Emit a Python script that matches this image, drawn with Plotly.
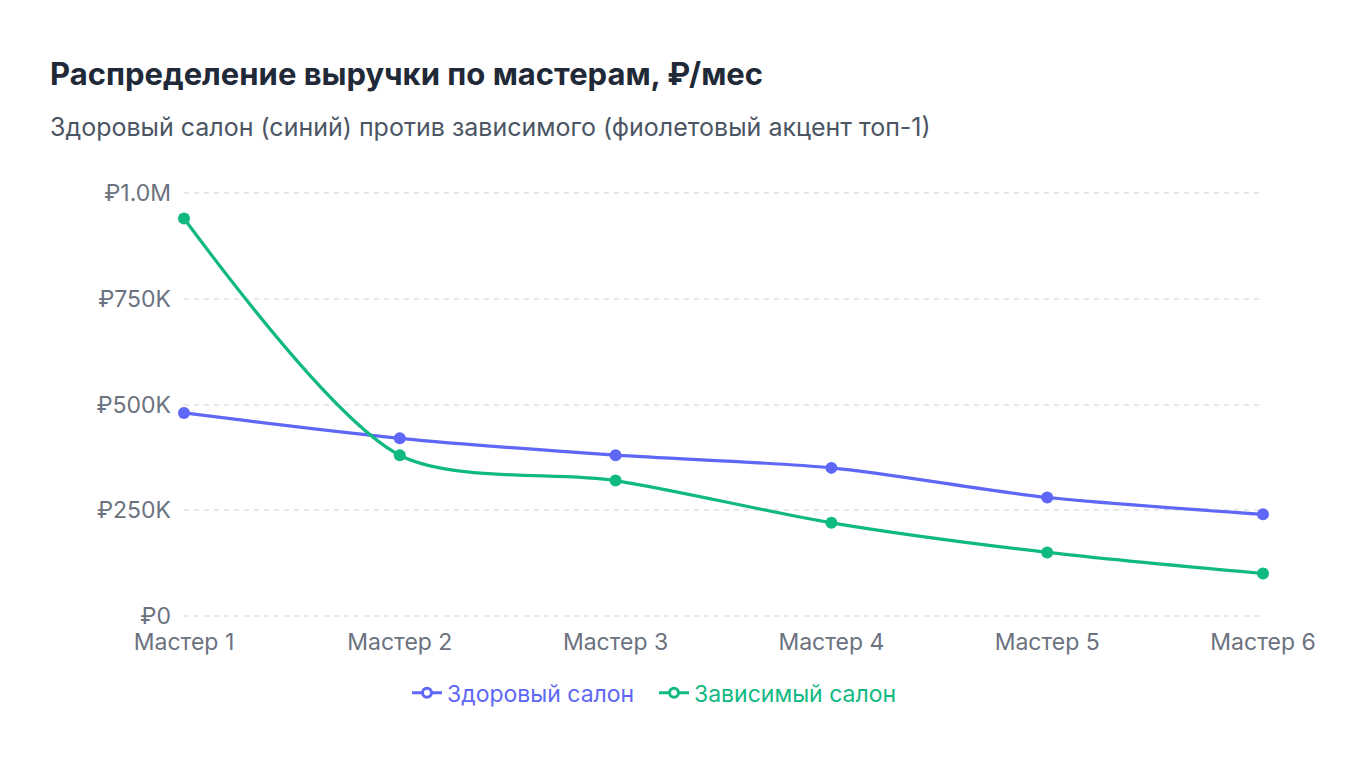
import plotly.graph_objects as go

categories = ["Мастер 1", "Мастер 2", "Мастер 3", "Мастер 4", "Мастер 5", "Мастер 6"]
healthy = [480000, 420000, 380000, 350000, 280000, 240000]
dependent = [940000, 380000, 320000, 220000, 150000, 100000]
tick_vals = [0, 250000, 500000, 750000, 1000000]
tick_text = ["₽0", "₽250K", "₽500K", "₽750K", "₽1.0M"]
series_names = ["Здоровый салон", "Зависимый салон"]

BLUE = "#5e67f6"
GREEN = "#10b981"
FONT = "Inter"

W, H = 1360, 760
L, R = 184, 1263
Y0, Y1 = 616, 193          # pixel rows of 0 and 1.0M
PAD = 0.01                 # fractional range padding so edge gridlines draw
span = Y0 - Y1
T = Y1 - span * PAD
B = Y0 + span * PAD

def px_x(x):
    return (x - L) / (R - L)

def px_y(y):
    return (B - y) / (B - T)

fig = go.Figure()
for name, vals, col in [(series_names[0], healthy, BLUE), (series_names[1], dependent, GREEN)]:
    fig.add_trace(go.Scatter(
        x=categories, y=vals, mode="lines+markers", name=name,
        line=dict(color=col, width=3.2, shape="spline", smoothing=0.8),
        marker=dict(color=col, size=12),
        showlegend=False, cliponaxis=False,
    ))
    fig.add_trace(go.Scatter(
        x=[None], y=[None], mode="lines+markers",
        name=f"<span style='color:{col}'>{name}</span>",
        line=dict(color=col, width=3),
        marker=dict(color="white", size=9, line=dict(color=col, width=3)),
        showlegend=True,
    ))

fig.update_layout(
    width=W, height=H,
    margin=dict(l=L, r=W - R, t=T, b=H - B, pad=0),
    paper_bgcolor="white", plot_bgcolor="white",
    font=dict(family=FONT, size=23, color="#6b7280"),
    xaxis=dict(
        type="category", range=[0, 5], showgrid=False, zeroline=False,
        showline=False, ticks="", tickfont=dict(size=23, color="#6b7280"),
        ticklabelstandoff=6,
    ),
    yaxis=dict(
        range=[-1000000 * PAD, 1000000 * (1 + PAD)], tickvals=tick_vals, ticktext=tick_text,
        showgrid=True, gridcolor="#e5e7eb", griddash="5px,5px", gridwidth=2,
        zeroline=False, showline=False, ticks="",
        tickfont=dict(size=23, color="#6b7280"), ticklabelstandoff=12,
    ),
    showlegend=True,
    legend=dict(
        orientation="h", x=px_x(407), y=px_y(693), xanchor="left", yanchor="middle",
        font=dict(size=23), bgcolor="rgba(0,0,0,0)", itemwidth=30, entrywidth=202,
    ),
    annotations=[
        dict(text="<b>Распределение выручки по мастерам, ₽/мес</b>", xref="paper", yref="paper",
             x=px_x(48), y=px_y(73), xanchor="left", yanchor="middle", showarrow=False,
             font=dict(family=FONT, size=31, color="#1f2937")),
        dict(text="Здоровый салон (синий) против зависимого (фиолетовый акцент топ-1)", xref="paper", yref="paper",
             x=px_x(48), y=px_y(127), xanchor="left", yanchor="middle", showarrow=False,
             font=dict(family=FONT, size=25, color="#4b5563")),
    ],
)

fig.write_html("out.html")
